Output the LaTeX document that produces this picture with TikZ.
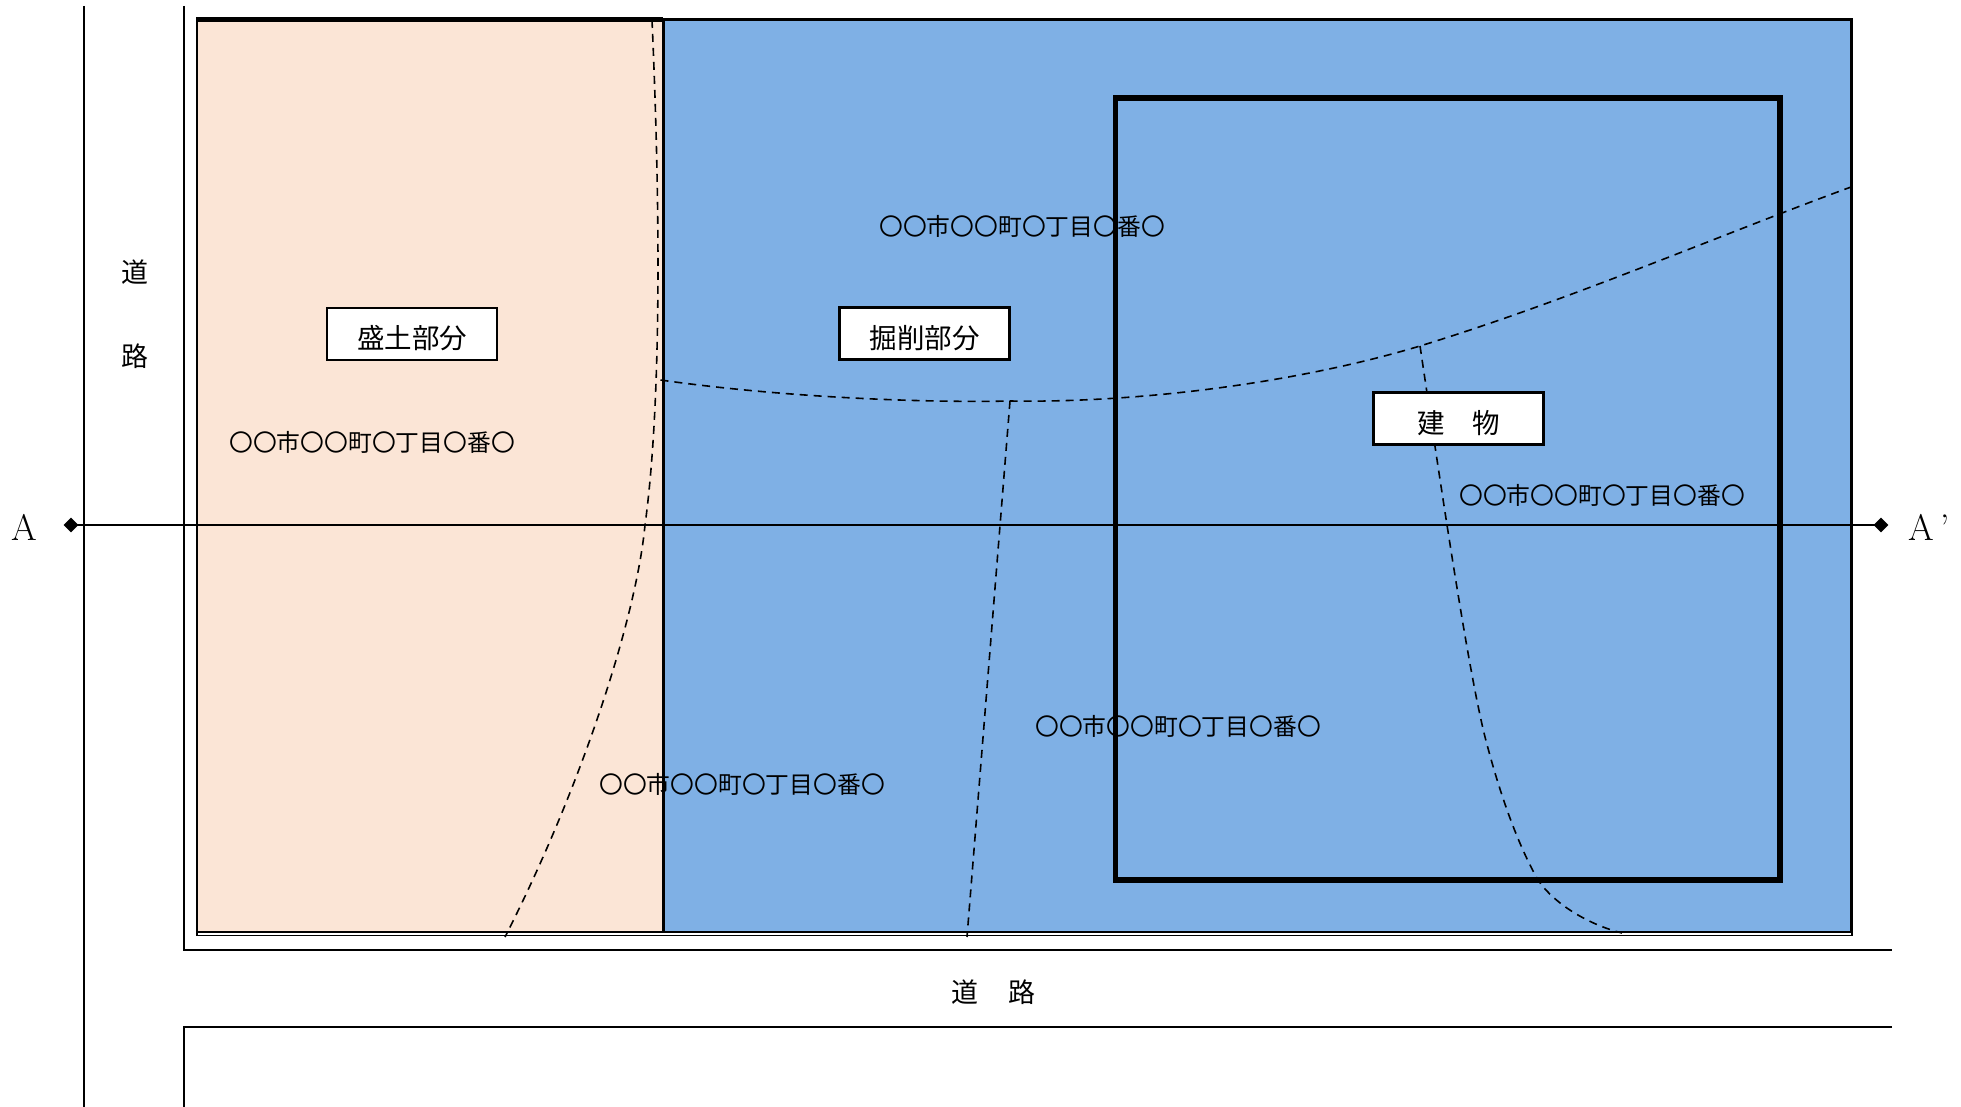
\documentclass[tikz,border=0pt]{standalone}
\usepackage{fontspec}
\newfontfamily\jp{Noto Sans CJK JP}
\setmainfont{Latin Modern Roman}
\definecolor{peach}{HTML}{FBE5D6}
\definecolor{blueland}{HTML}{7FB0E5}
\tikzset{
  road/.style={draw=black,line width=1.6pt},
  dashline/.style={draw=black,line width=1.6pt,dash pattern=on 8pt off 6pt},
  labelbox/.style={draw=black,fill=white,line width=2.2pt,minimum width=170pt,minimum height=52pt,inner sep=0pt},
  labeltext/.style={inner sep=0pt,font=\jp\fontsize{27.5}{28}\selectfont},
  addr/.style={inner sep=0pt,font=\jp\fontsize{23.8}{24}\selectfont},
  roadtext/.style={inner sep=0pt,font=\jp\fontsize{27}{27}\selectfont},
  sect/.style={inner sep=0pt,font=\fontsize{37}{37}\selectfont},
  tip/.style={diamond,fill=black,draw=none,minimum size=15pt,inner sep=0pt}
}
\usetikzlibrary{shapes.geometric}
\begin{document}
\begin{tikzpicture}[x=1pt,y=-1pt]
\useasboundingbox (0,0) rectangle (1961,1107);
\fill[white] (0,0) rectangle (1961,1107);
% roads
\coordinate (rl1) at (84,6); \coordinate (rl2) at (84,1107);
\coordinate (rm1) at (184,6); \coordinate (rm2) at (184,950); \coordinate (rm3) at (1892,950);
\coordinate (rb1) at (1892,1027); \coordinate (rb2) at (184,1027); \coordinate (rb3) at (184,1107);
\draw[road] (rl1) -- (rl2);
\draw[road] (rm1) -- (rm2) -- (rm3);
\draw[road] (rb1) -- (rb2) -- (rb3);
% land
\fill[peach] (197,19.5) rectangle (663,932);
\fill[blueland] (663,19.5) rectangle (1851,932);
\draw[black,line width=1.3pt] (197,18.5) rectangle (1852,935.5);
\draw[black,line width=3pt] (663.5,19.5) -- (663.5,932);
\draw[black,line width=4.2pt] (196,19.5) -- (663,19.5);
\draw[black,line width=2pt] (663,20) -- (1851,20) -- (1851,932);
\draw[black,line width=1.6pt] (1851,932) -- (197,932);
\draw[black,line width=2.2pt] (197,932) -- (197,19.5);
% dashed boundaries
\coordinate (d1) at (652,20);
\coordinate (d2) at (660.5,380);
\coordinate (d3) at (505,937);
\coordinate (d4) at (1851,187);
\coordinate (d5) at (1010,401);
\coordinate (d6) at (1420,346);
\coordinate (d7) at (967,937);
\coordinate (d8) at (1622,933);
\draw[dashline] (d1) .. controls (660,200) and (662,400) .. (645,525) .. controls (636,620) and (580,790) .. (d3);
\draw[dashline] (d2) .. controls (780,397) and (920,403) .. (d5) .. controls (1130,403) and (1290,385) .. (d6) .. controls (1570,300) and (1720,235) .. (d4);
\draw[dashline] (d5) -- (d7);
\draw[dashline] (d6) .. controls (1440,480) and (1467,665) .. (1485,737) .. controls (1500,795) and (1518,845) .. (1538,880) .. controls (1555,905) and (1590,925) .. (d8);
% building
\draw[black,line width=5.6pt,line join=miter] (1115.5,98) rectangle (1780,880);
% section line
\node[tip] (ta) at (71,525) {};
\node[tip] (tb) at (1881,525) {};
\draw[black,line width=1.8pt] (ta.center) -- (tb.center);
\node[sect] (la) at (24,527) {A};
\node[sect,anchor=west] (lb) at (1908,527) {A\,’};
% labels
\node[labelbox] (b1) at (412,334) {};
\node[labelbox] (b2) at (924.5,333.5) {};
\node[labelbox] (b3) at (1458.5,418.5) {};
\node[labeltext] (t1) at (412,338) {盛土部分};
\node[labeltext] (t2) at (924.5,338) {掘削部分};
\node[labeltext] (t3) at (1458.5,423) {建\hspace{1em}物};
\node[addr] (a1) at (372,442) {〇〇市〇〇町〇丁目〇番〇};
\node[addr] (a2) at (1022,226) {〇〇市〇〇町〇丁目〇番〇};
\node[addr] (a3) at (742,784) {〇〇市〇〇町〇丁目〇番〇};
\node[addr] (a4) at (1178,726.5) {〇〇市〇〇町〇丁目〇番〇};
\node[addr] (a5) at (1602,495) {〇〇市〇〇町〇丁目〇番〇};
\node[roadtext] (r1) at (135,272) {道};
\node[roadtext] (r2) at (135,356) {路};
\node[roadtext] (r3) at (965,992) {道};
\node[roadtext] (r4) at (1022,992) {路};
\end{tikzpicture}
\end{document}
